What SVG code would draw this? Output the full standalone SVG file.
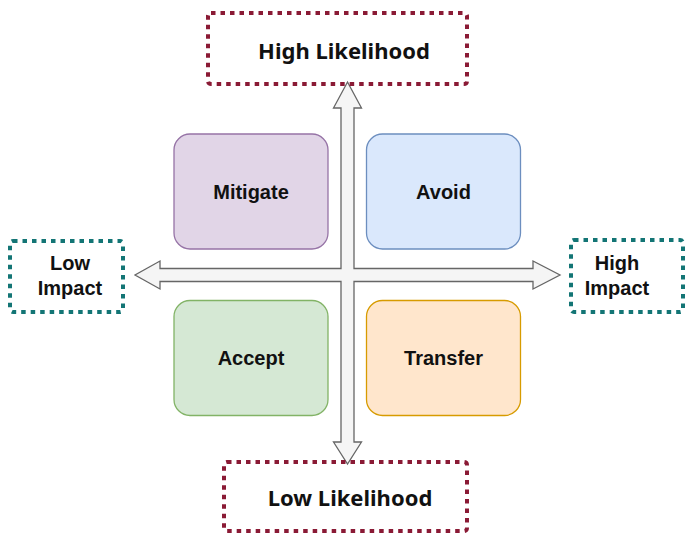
<svg xmlns="http://www.w3.org/2000/svg" width="696" height="541" viewBox="0 0 696 541">
<style>
.q{stroke-width:1.3}
.qt{font-family:"Liberation Sans",Arial,sans-serif;font-weight:bold;font-size:20px;text-anchor:middle;fill:#111}
.red{fill:none;stroke:#8a1a35;stroke-width:4;stroke-dasharray:4.5 5}
.teal{fill:none;stroke:#137575;stroke-width:4;stroke-dasharray:4.5 5}
.lt{font-family:"Noto Sans","Open Sans",sans-serif;font-weight:bold;font-size:22px;text-anchor:middle;fill:#111}
.it{font-family:"Liberation Sans",Arial,sans-serif;font-weight:bold;font-size:20px;text-anchor:middle;fill:#111}
</style>
<rect width="696" height="541" fill="#ffffff"/>
<g id="connectors">
<path d="M347.5,82 L361.5,108 L354,108 L354,268.5 L533,268.5 L533,261 L560,275 L533,289 L533,281.5 L354,281.5 L354,442 L361.5,442 L347.5,464 L333.5,442 L341,442 L341,281.5 L160,281.5 L160,289 L135,275 L160,261 L160,268.5 L341,268.5 L341,108 L333.5,108 Z" fill="#f5f5f5" stroke="#666666" stroke-width="1.3" stroke-linejoin="miter"/>
</g>
<g id="mitigate">
<rect class="q" x="174" y="134" width="154" height="115" rx="16" fill="#e1d5e7" stroke="#9673a6"/>
<text class="qt" x="251" y="199">Mitigate</text>
</g>
<g id="avoid">
<rect class="q" x="366.5" y="134" width="154" height="115" rx="16" fill="#dae8fc" stroke="#6c8ebf"/>
<text class="qt" x="443.5" y="199">Avoid</text>
</g>
<g id="accept">
<rect class="q" x="174" y="300.5" width="154" height="115" rx="16" fill="#d5e8d4" stroke="#82b366"/>
<text class="qt" x="251" y="365">Accept</text>
</g>
<g id="transfer">
<rect class="q" x="366.5" y="300.5" width="154" height="115" rx="16" fill="#ffe6cc" stroke="#d79b00"/>
<text class="qt" x="443.5" y="365">Transfer</text>
</g>
<g id="high-likelihood">
<rect class="red" x="208" y="13" width="259" height="71" rx="3"/>
<text class="lt" x="344" y="59">High Likelihood</text>
</g>
<g id="low-likelihood">
<rect class="red" x="224" y="462" width="243" height="69" rx="3"/>
<text class="lt" x="350" y="506">Low Likelihood</text>
</g>
<g id="low-impact">
<rect class="teal" x="10" y="241" width="113" height="71" rx="3"/>
<text class="it" x="70" y="270">Low</text>
<text class="it" x="70" y="295">Impact</text>
</g>
<g id="high-impact">
<rect class="teal" x="571" y="240" width="112" height="72" rx="3"/>
<text class="it" x="617" y="270">High</text>
<text class="it" x="617" y="295">Impact</text>
</g>
</svg>
